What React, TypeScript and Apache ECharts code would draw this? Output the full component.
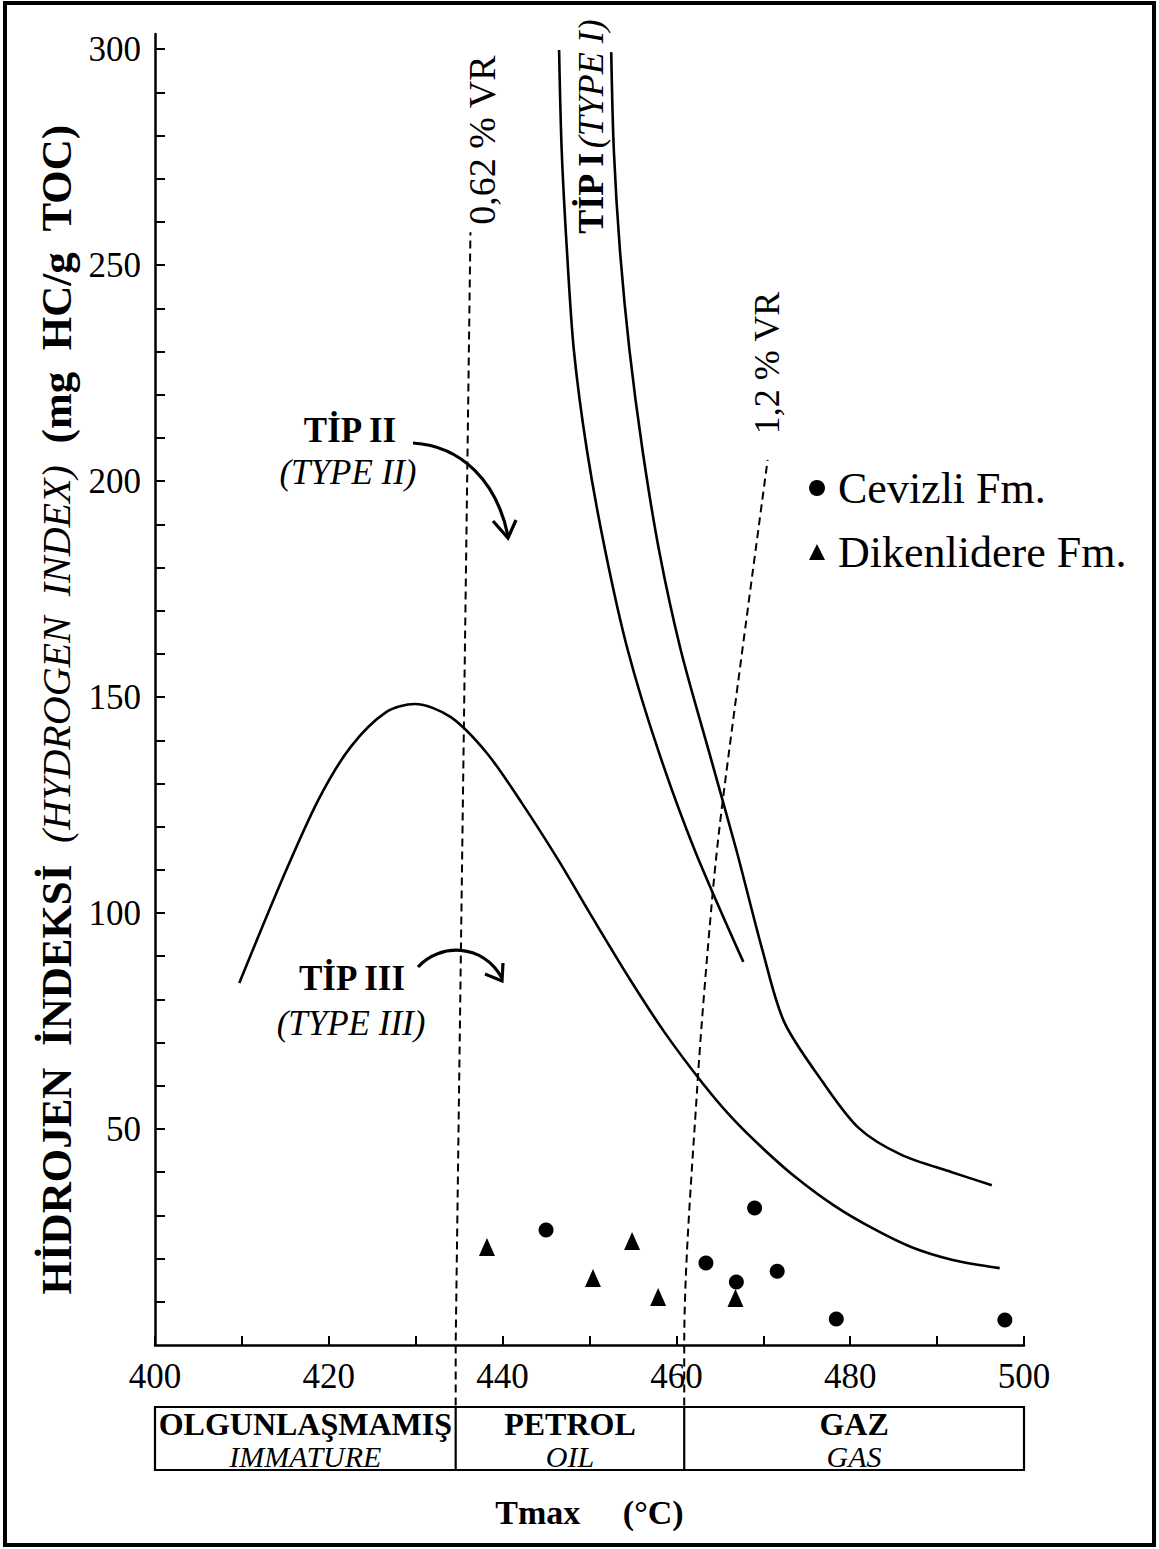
import React, { useEffect, useRef } from "react";
import * as echarts from "echarts";

// ---- data ----
const xTickLabels = [400, 420, 440, 460, 480, 500];
const yTickLabels = [50, 100, 150, 200, 250, 300];
const yTicks = [10, 20, 30, 40, 50, 60, 70, 80, 90, 100, 110, 120, 130, 140, 150, 160, 170, 180, 190, 200, 210, 220, 230, 240, 250, 260, 270, 280, 290, 300];

// Type III curve (Tmax, HI)
const typeIII: number[][] = [
  [409.7, 83.8], [414.6, 107.6], [418.8, 126.2], [422.5, 138.4], [426.6, 146.5],
  [429.9, 148.4], [434.0, 145.4], [438.2, 137.0], [442.2, 125.5], [446.4, 112.3],
  [450.5, 98.4], [454.7, 84.5], [458.7, 72.2], [462.9, 60.9], [466.3, 52.8],
  [469.9, 45.6], [473.8, 38.7], [478.2, 32.2], [482.5, 27.1], [487.0, 22.7],
  [491.8, 19.7], [497.2, 17.8],
];
// Type II curve
const typeII: number[][] = [
  [446.5, 299.8], [446.8, 276.6], [447.4, 253.5], [448.2, 230.3], [449.7, 207.2],
  [451.8, 184.0], [454.4, 160.9], [457.9, 137.7], [462.1, 114.6], [467.7, 88.7],
];
// Type I curve
const typeI: number[][] = [
  [452.5, 299.3], [452.8, 276.6], [453.5, 253.5], [454.6, 230.3], [456.1, 207.2],
  [458.0, 184.0], [460.5, 160.9], [463.7, 137.7], [466.9, 114.6], [469.9, 91.4],
  [472.4, 74.8], [476.7, 61.3], [481.0, 50.2], [485.9, 44.0], [491.7, 40.0], [496.3, 37.0],
];
// vitrinite reflectance iso-lines
const vr062: number[][] = [[434.6, -14], [434.6, 0], [436.3, 257.6]];
const vr12: number[][] = [[460.9, -14], [460.9, 0], [462.4, 59.7], [464.1, 103.0], [465.3, 125.5], [470.5, 204.9]];

// samples
const cevizliX = [445.0, 463.4, 466.9, 469.0, 471.6, 478.4, 497.8];
const cevizliY = [26.6, 19.0, 14.6, 31.7, 17.1, 6.0, 5.8];
const dikenX = [438.2, 450.4, 454.9, 457.9, 466.8];
const dikenY = [22.7, 15.5, 24.1, 11.1, 10.9];

// maturity zones
const zoneBounds = [400, 434.6, 460.9, 500];
const zoneTR = ["OLGUNLAŞMAMIŞ", "PETROL", "GAZ"];
const zoneEN = ["IMMATURE", "OIL", "GAS"];

const SERIF = "'Liberation Serif', 'Times New Roman', serif";

export default function App() {
  const ref = useRef<HTMLDivElement>(null);
  useEffect(() => {
    const chart = echarts.init(ref.current!, null, { renderer: "svg" });
    const curve = { color: "#000", width: 2.6 };
    const dash = { color: "#000", width: 2, type: [8, 5] };
    chart.setOption({
      animation: false,
      backgroundColor: "#fff",
      grid: { left: 155, right: 135, top: 34, bottom: 204 },
      xAxis: {
        type: "value",
        min: 400,
        max: 500,
        interval: 10,
        axisLine: { lineStyle: { color: "#000", width: 2.5 } },
        axisTick: { inside: true, length: 9, lineStyle: { color: "#000", width: 2 } },
        axisLabel: { customValues: xTickLabels, color: "#000", fontFamily: SERIF, fontSize: 35, margin: 14 },
        splitLine: { show: false },
        name: "Tmax     (°C)",
        nameLocation: "middle",
        nameGap: 150,
        nameTextStyle: { color: "#000", fontFamily: SERIF, fontSize: 34, fontWeight: "bold" },
      },
      yAxis: {
        type: "value",
        min: 0,
        max: 303.5,
        interval: 10,
        axisLine: { lineStyle: { color: "#000", width: 2.5 } },
        axisTick: { inside: true, length: 10, customValues: yTicks, lineStyle: { color: "#000", width: 2 } },
        axisLabel: { customValues: yTickLabels, color: "#000", fontFamily: SERIF, fontSize: 35, margin: 14 },
        splitLine: { show: false },
        name: "{b|HİDROJEN  İNDEKSİ  }{i|(HYDROGEN  INDEX)}{b|  (mg  HC/g  TOC)}",
        nameLocation: "middle",
        nameRotate: 90,
        nameGap: 70,
        nameTextStyle: {
          color: "#000",
          padding: [0, 40, 0, 0],
          rich: {
            b: { fontFamily: SERIF, fontWeight: "bold", fontSize: 43, color: "#000" },
            i: { fontFamily: SERIF, fontStyle: "italic", fontSize: 40, color: "#000" },
          },
        },
      },
      legend: {
        orient: "vertical",
        left: 804,
        top: 458,
        itemWidth: 16,
        itemHeight: 16,
        itemGap: 14,
        data: [
          { name: "Cevizli Fm.", icon: "circle" },
          { name: "Dikenlidere Fm.", icon: "triangle" },
        ],
        textStyle: { fontFamily: SERIF, fontSize: 44, color: "#000", lineHeight: 50, padding: [0, 0, 0, 8] },
      },
      series: [
        { type: "line", name: "Tip III", data: typeIII, showSymbol: false, symbol: "none", smooth: 0.3, lineStyle: curve, silent: true },
        { type: "line", name: "Tip II", data: typeII, showSymbol: false, symbol: "none", smooth: 0.3, lineStyle: curve, silent: true },
        { type: "line", name: "Tip I", data: typeI, showSymbol: false, symbol: "none", smooth: 0.3, lineStyle: curve, silent: true },
        { type: "line", name: "0,62 % VR", data: vr062, showSymbol: false, symbol: "none", lineStyle: dash, clip: false, silent: true },
        { type: "line", name: "1,2 % VR", data: vr12, showSymbol: false, symbol: "none", smooth: 0.3, lineStyle: dash, clip: false, silent: true },
        {
          type: "scatter",
          name: "Cevizli Fm.",
          data: cevizliX.map((x, i) => [x, cevizliY[i]]),
          symbol: "circle",
          symbolSize: 15,
          itemStyle: { color: "#000", opacity: 1 },
        },
        {
          type: "scatter",
          name: "Dikenlidere Fm.",
          data: dikenX.map((x, i) => [x, dikenY[i]]),
          symbol: "triangle",
          symbolSize: [16, 18],
          itemStyle: { color: "#000", opacity: 1 },
        },
      ],
    });

    const px = (v: number) => (chart.convertToPixel({ gridIndex: 0 }, [v, 0]) as number[])[0];
    const boxTop = 1407;
    const boxBottom = 1470;
    const g: any[] = [];
    // outer frame
    g.push({ type: "rect", shape: { x: 5, y: 3, width: 1149, height: 1542 }, style: { fill: "none", stroke: "#000", lineWidth: 4 } });
    // zone box
    const x0 = px(zoneBounds[0]);
    const x3 = px(zoneBounds[zoneBounds.length - 1]);
    g.push({ type: "rect", shape: { x: x0, y: boxTop, width: x3 - x0, height: boxBottom - boxTop }, style: { fill: "none", stroke: "#000", lineWidth: 2.2 } });
    for (let k = 1; k < zoneBounds.length - 1; k++) {
      const xx = px(zoneBounds[k]);
      g.push({ type: "line", shape: { x1: xx, y1: boxTop, x2: xx, y2: boxBottom }, style: { stroke: "#000", lineWidth: 2.2 } });
    }
    for (let k = 0; k < zoneTR.length; k++) {
      const cx = (px(zoneBounds[k]) + px(zoneBounds[k + 1])) / 2;
      g.push({ type: "text", x: cx, y: 1424, style: { text: zoneTR[k], font: `bold 32px ${SERIF}`, fill: "#000", textAlign: "center", textVerticalAlign: "middle" } });
      g.push({ type: "text", x: cx, y: 1456, style: { text: zoneEN[k], font: `italic 30px ${SERIF}`, fill: "#000", textAlign: "center", textVerticalAlign: "middle" } });
    }
    // curve labels
    g.push({ type: "text", x: 350, y: 430, style: { text: "TİP II", font: `bold 35px ${SERIF}`, fill: "#000", textAlign: "center", textVerticalAlign: "middle" } });
    g.push({ type: "text", x: 348, y: 472, style: { text: "(TYPE II)", font: `italic 35px ${SERIF}`, fill: "#000", textAlign: "center", textVerticalAlign: "middle" } });
    g.push({ type: "text", x: 352, y: 978, style: { text: "TİP III", font: `bold 35px ${SERIF}`, fill: "#000", textAlign: "center", textVerticalAlign: "middle" } });
    g.push({ type: "text", x: 351, y: 1023, style: { text: "(TYPE III)", font: `italic 35px ${SERIF}`, fill: "#000", textAlign: "center", textVerticalAlign: "middle" } });
    // arrows
    g.push({ type: "bezierCurve", shape: { x1: 413, y1: 443, cpx1: 462, cpy1: 446, cpx2: 497, cpy2: 482, x2: 508, y2: 536 }, style: { stroke: "#000", lineWidth: 3.2, fill: "none" } });
    g.push({ type: "polyline", shape: { points: [[493, 521], [508, 538], [516, 520]] }, style: { stroke: "#000", lineWidth: 3.2, fill: "none" } });
    g.push({ type: "bezierCurve", shape: { x1: 418, y1: 967, cpx1: 440, cpy1: 943, cpx2: 482, cpy2: 943, x2: 502, y2: 978 }, style: { stroke: "#000", lineWidth: 3.2, fill: "none" } });
    g.push({ type: "polyline", shape: { points: [[485, 974], [502, 981], [503, 963]] }, style: { stroke: "#000", lineWidth: 3.2, fill: "none" } });
    // rotated labels
    g.push({ type: "text", x: 482, y: 140, rotation: Math.PI / 2, style: { text: "0,62 % VR", font: `38px ${SERIF}`, fill: "#000", textAlign: "center", textVerticalAlign: "middle" } });
    g.push({ type: "text", x: 767, y: 363, rotation: Math.PI / 2, style: { text: "1,2 % VR", font: `36px ${SERIF}`, fill: "#000", textAlign: "center", textVerticalAlign: "middle" } });
    g.push({
      type: "text",
      x: 591,
      y: 127,
      rotation: Math.PI / 2,
      style: {
        text: "{b|TİP I} {i|(TYPE I)}",
        fill: "#000",
        textAlign: "center",
        textVerticalAlign: "middle",
        rich: {
          b: { fontFamily: SERIF, fontWeight: "bold", fontSize: 36, fill: "#000" },
          i: { fontFamily: SERIF, fontStyle: "italic", fontSize: 36, fill: "#000" },
        },
      },
    });
    chart.setOption({ graphic: g });

    return () => chart.dispose();
  }, []);
  return <div ref={ref} style={{ position: "absolute", left: 0, top: 0, width: 1159, height: 1549 }} />;
}
